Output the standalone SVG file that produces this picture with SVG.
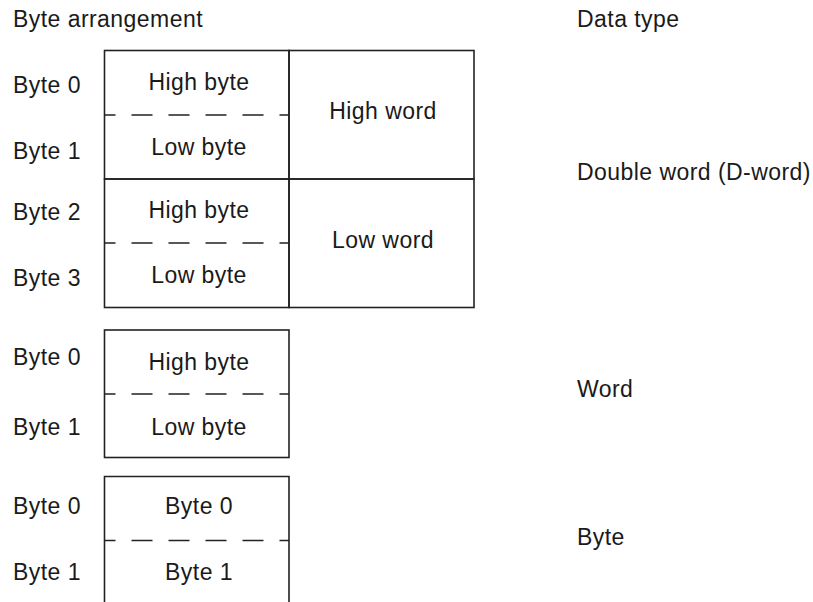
<svg xmlns="http://www.w3.org/2000/svg" width="813" height="602" viewBox="0 0 813 602">
<style>
text{font-family:"Liberation Sans",Arial,sans-serif;font-size:23px;letter-spacing:0.45px;fill:#1a1a1a}
.c{text-anchor:middle}
.box{fill:none;stroke:#222;stroke-width:1.6}
.dash{fill:none;stroke:#222;stroke-width:1.6;stroke-dasharray:21 16;stroke-dashoffset:10}
</style>
<rect width="813" height="602" fill="#fff"/>
<g id="headers">
<text x="13" y="27">Byte arrangement</text>
<text x="577" y="27">Data type</text>
</g>
<g id="dword">
<text x="13" y="93">Byte 0</text>
<text x="13" y="159">Byte 1</text>
<text x="13" y="220">Byte 2</text>
<text x="13" y="286">Byte 3</text>
<rect class="box" x="104.5" y="50.5" width="184.5" height="128.5"/>
<rect class="box" x="104.5" y="179" width="184.5" height="128.5"/>
<rect class="box" x="289" y="50.5" width="185" height="128.5"/>
<rect class="box" x="289" y="179" width="185" height="128.5"/>
<line class="dash" x1="104.5" y1="115" x2="289" y2="115"/>
<line class="dash" x1="104.5" y1="243" x2="289" y2="243"/>
<text class="c" x="199" y="90">High byte</text>
<text class="c" x="199" y="155">Low byte</text>
<text class="c" x="199" y="218">High byte</text>
<text class="c" x="199" y="283">Low byte</text>
<text class="c" x="383" y="119">High word</text>
<text class="c" x="383" y="248">Low word</text>
<text x="577" y="180">Double word (D-word)</text>
</g>
<g id="word">
<text x="13" y="365">Byte 0</text>
<text x="13" y="435">Byte 1</text>
<rect class="box" x="104.5" y="330" width="184.5" height="127.5"/>
<line class="dash" x1="104.5" y1="394" x2="289" y2="394"/>
<text class="c" x="199" y="370">High byte</text>
<text class="c" x="199" y="435">Low byte</text>
<text x="577" y="397">Word</text>
</g>
<g id="byte">
<text x="13" y="514">Byte 0</text>
<text x="13" y="580">Byte 1</text>
<path class="box" d="M104.5 604 V476.5 H289 V604"/>
<line class="dash" x1="104.5" y1="540.5" x2="289" y2="540.5"/>
<text class="c" x="199" y="514">Byte 0</text>
<text class="c" x="199" y="580">Byte 1</text>
<text x="577" y="545">Byte</text>
</g>
<g id="connectors"></g>
</svg>
